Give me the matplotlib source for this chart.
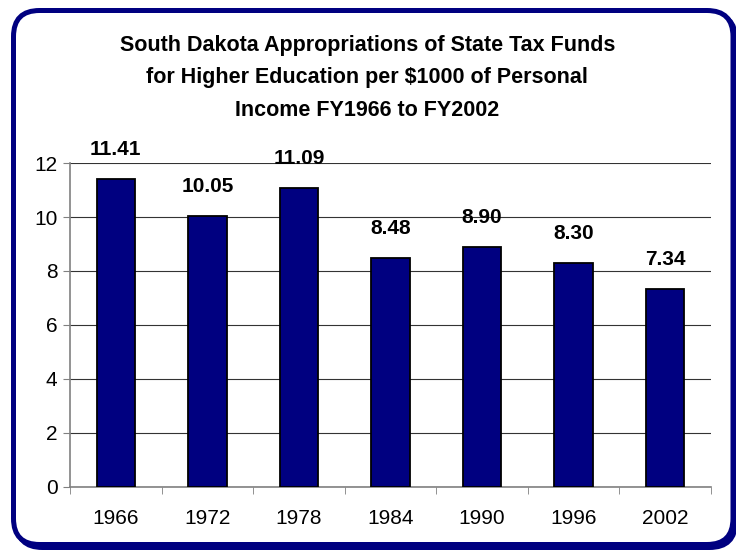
import matplotlib
matplotlib.use("Agg")
import matplotlib.pyplot as plt
from matplotlib.patches import FancyBboxPatch

plt.rcParams['font.family'] = ['Liberation Sans', 'DejaVu Sans']

# dữ liệu
years = ['1966', '1972', '1978', '1984', '1990', '1996', '2002']
values = [11.41, 10.05, 11.09, 8.48, 8.90, 8.30, 7.34]
yticks = [0, 2, 4, 6, 8, 10, 12]

title = ("South Dakota Appropriations of State Tax Funds\n"
         "for Higher Education per $1000 of Personal\n"
         "Income FY1966 to FY2002")

navy = '#000080'

fig = plt.figure(figsize=(7.36, 5.52), dpi=100)

# khung viền bo góc (vẽ theo toạ độ pixel)
bg = fig.add_axes([0, 0, 1, 1], zorder=-1)
bg.set_xlim(0, 736)
bg.set_ylim(0, 552)
bg.axis('off')
shadow = FancyBboxPatch((16.5, 4.5), 719, 534, boxstyle="round,pad=0,rounding_size=26",
                        fill=False, edgecolor=navy, linewidth=3.6)
bg.add_patch(shadow)
frame = FancyBboxPatch((13.5, 7.5), 719.5, 534, boxstyle="round,pad=0,rounding_size=26",
                       facecolor='white', edgecolor=navy, linewidth=3.6)
bg.add_patch(frame)

ax = fig.add_axes([0.0951, 0.1178, 0.966 - 0.0951, 0.7047 - 0.1178])
ax.set_facecolor('none')
x = range(len(years))
bars = ax.bar(x, values, width=0.42, color=navy, edgecolor='black', linewidth=1.3, zorder=3)

for xi, v in zip(x, values):
    ax.annotate(f'{v:.2f}', (xi, v), xytext=(0, 21), textcoords='offset points',
                ha='center', va='center', fontsize=15, fontweight='bold')

ax.set_xlim(-0.5, len(years) - 0.5)
ax.set_ylim(0, 12)
ax.set_yticks(yticks)
ax.set_yticklabels([str(t) for t in yticks], fontsize=15)
ax.set_xticks(list(x))
ax.set_xticklabels(years, fontsize=15)
ax.tick_params(axis='x', which='major', length=0, pad=16)
ax.set_xticks([i - 0.5 for i in range(len(years) + 1)], minor=True)
ax.tick_params(axis='x', which='minor', length=5, color='#808080', direction='out')
ax.tick_params(axis='y', length=5, color='#808080', pad=4)
ax.yaxis.grid(True, color='#333333', linewidth=0.8, zorder=0)
ax.set_axisbelow(True)
for s in ['top', 'right']:
    ax.spines[s].set_visible(False)
for s in ['left', 'bottom']:
    ax.spines[s].set_color('#808080')
    ax.spines[s].set_linewidth(1.2)

fig.text(0.499, 1 - 78 / 552, title, ha='center', va='center', fontsize=15.5,
         fontweight='bold', linespacing=1.72)

fig.savefig('out.png', dpi=100)
